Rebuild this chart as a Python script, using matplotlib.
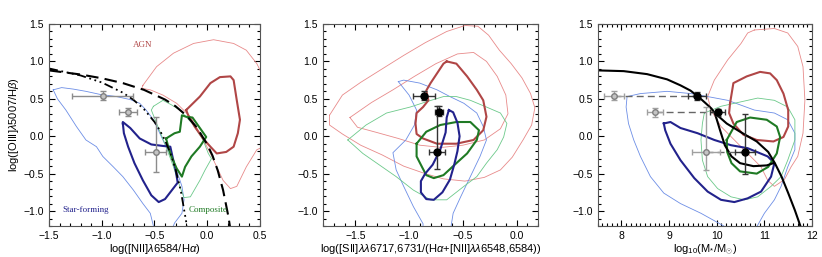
import matplotlib
matplotlib.use("Agg")
import matplotlib.pyplot as plt
from matplotlib.ticker import MultipleLocator

plt.rcParams["font.family"] = ["Liberation Sans", "DejaVu Sans"]
plt.rcParams["mathtext.fontset"] = "custom"
plt.rcParams["mathtext.rm"] = "Liberation Sans"
plt.rcParams["mathtext.it"] = "Liberation Sans:italic"

# ---------------- data ----------------
# demarcation lines, BPT panel
kew_x = [-1.5, -1.2, -1.0, -0.8, -0.6, -0.4, -0.3, -0.2, -0.1, 0.0, 0.05, 0.1, 0.15, 0.2, 0.22]
kew_y = [0.88, 0.825, 0.775, 0.71, 0.62, 0.49, 0.40, 0.28, 0.12, -0.11, -0.26, -0.46, -0.72, -1.07, -1.25]
kau_x = [-1.5, -1.2, -1.0, -0.8, -0.7, -0.6, -0.5, -0.45, -0.4, -0.35, -0.3, -0.25, -0.2, -0.19]
kau_y = [0.906, 0.812, 0.719, 0.582, 0.487, 0.362, 0.191, 0.08, -0.056, -0.225, -0.443, -0.733, -1.14, -1.24]

# MEx lines, mass panel
mex_up_x = [7.5, 8.05, 8.54, 8.96, 9.24, 9.45, 9.63, 9.77, 9.89, 9.96, 10.21, 10.49, 10.84, 11.08, 11.22, 11.36, 11.50, 11.64, 11.75, 11.78]
mex_up_y = [0.88, 0.87, 0.83, 0.76, 0.68, 0.61, 0.52, 0.44, 0.37, 0.31, 0.17, 0.06, -0.07, -0.21, -0.36, -0.54, -0.76, -0.99, -1.19, -1.25]
mex_lo_x = [9.96, 10.07, 10.17, 10.31, 10.49, 10.77, 11.05, 11.19]
mex_lo_y = [0.31, 0.08, -0.12, -0.27, -0.36, -0.40, -0.39, -0.36]

# measured points
p1_x, p1_xerr = [-0.99, -0.75, -0.49], [0.29, 0.085, 0.10]
pts_y = [0.54, 0.32, -0.21]
p1_yerr = [[0.06, 0.055, 0.27], [0.06, 0.055, 0.47]]
p2_x, p2_xerr = [-0.86, -0.72, -0.74], [0.10, 0.04, 0.075]
p2_yerr = [[0.06, 0.05, 0.23], [0.06, 0.09, 0.62]]
p3g_x, p3g_xerr = [7.85, 8.70, 9.77], [0.21, 0.17, 0.29]
p3g_yerr = [[0.06, 0.06, 0.24], [0.06, 0.06, 0.60]]
p3b_x, p3b_xerr = [9.58, 10.02, 10.59], [0.19, 0.16, 0.21]
p3b_yerr = [[0.05, 0.05, 0.30], [0.05, 0.05, 0.51]]

# contours, BPT panel
c1_sf_out = [(-1.46, 0.62), (-1.38, 0.65), (-1.27, 0.63), (-1.15, 0.60), (-1.02, 0.56), (-0.86, 0.53),
             (-0.73, 0.49), (-0.64, 0.44), (-0.58, 0.35), (-0.51, 0.22), (-0.45, 0.04), (-0.39, -0.14),
             (-0.32, -0.32), (-0.28, -0.50), (-0.24, -0.67), (-0.22, -0.85), (-0.24, -1.03), (-0.31, -1.16),
             (-0.35, -1.3), (-0.51, -1.3), (-0.51, -1.2), (-0.54, -1.03), (-0.61, -0.90), (-0.70, -0.72),
             (-0.80, -0.54), (-0.89, -0.41), (-0.99, -0.27), (-1.05, -0.14), (-1.15, -0.05), (-1.24, 0.13),
             (-1.34, 0.35), (-1.42, 0.50), (-1.46, 0.62)]
c1_sf_in = [(-0.80, 0.17), (-0.79, 0.04), (-0.75, -0.14), (-0.69, -0.36), (-0.61, -0.59), (-0.53, -0.79),
            (-0.46, -0.88), (-0.40, -0.84), (-0.28, -0.62), (-0.30, -0.45), (-0.33, -0.27), (-0.35, -0.14),
            (-0.42, -0.13), (-0.53, -0.11), (-0.64, -0.03), (-0.73, 0.11), (-0.80, 0.19), (-0.80, 0.17)]
c1_co_out = [(-0.51, 0.40), (-0.42, 0.48), (-0.34, 0.42), (-0.26, 0.35), (-0.13, 0.15), (-0.04, -0.05),
             (0.01, -0.23), (0.04, -0.30), (-0.02, -0.45), (-0.07, -0.59), (-0.16, -0.81), (-0.22, -0.82),
             (-0.26, -0.67), (-0.32, -0.41), (-0.39, -0.14), (-0.48, 0.17), (-0.53, 0.35), (-0.51, 0.40)]
c1_co_in = [(-0.39, -0.03), (-0.31, 0.04), (-0.26, 0.06), (-0.24, 0.28), (-0.20, 0.26), (-0.14, 0.25),
            (-0.07, 0.11), (-0.01, -0.01), (-0.07, -0.14), (-0.15, -0.27), (-0.21, -0.41), (-0.24, -0.54),
            (-0.29, -0.43), (-0.34, -0.27), (-0.37, -0.14), (-0.39, -0.03)]
c1_agn_out = [(-0.61, 0.68), (-0.48, 0.93), (-0.32, 1.11), (-0.13, 1.24), (0.06, 1.29), (0.25, 1.24),
              (0.37, 1.15), (0.47, 0.97), (0.60, 0.60), (0.60, -0.10), (0.47, -0.18), (0.37, -0.41),
              (0.28, -0.67), (0.22, -0.70), (0.15, -0.59), (0.09, -0.41), (0.03, -0.23), (-0.07, 0.04),
              (-0.16, 0.26), (-0.29, 0.44), (-0.42, 0.55), (-0.54, 0.62), (-0.62, 0.64), (-0.61, 0.68)]
c1_agn_in = [(-0.20, 0.35), (-0.07, 0.53), (0.03, 0.71), (0.12, 0.79), (0.22, 0.80), (0.25, 0.75),
             (0.28, 0.48), (0.31, 0.22), (0.29, 0.04), (0.25, -0.14), (0.18, -0.21), (0.09, -0.23),
             (0.03, -0.14), (-0.04, -0.03), (-0.12, 0.13), (-0.18, 0.28), (-0.20, 0.35)]

# contours, [SII] panel
c2_agn_out = [(-1.74, 0.28), (-1.62, 0.55), (-1.45, 0.72), (-1.25, 0.90), (-1.05, 1.08), (-0.85, 1.25),
              (-0.65, 1.40), (-0.48, 1.48), (-0.36, 1.47), (-0.26, 1.35), (-0.16, 1.15), (-0.05, 0.97),
              (0.05, 0.78), (0.13, 0.57), (0.17, 0.38), (0.14, 0.15), (0.06, -0.05), (-0.04, -0.28),
              (-0.15, -0.45), (-0.30, -0.55), (-0.48, -0.60), (-0.68, -0.57), (-0.85, -0.50), (-1.05, -0.40),
              (-1.25, -0.25), (-1.45, -0.12), (-1.62, 0.03), (-1.74, 0.15), (-1.74, 0.28)]
c2_agn_hole = [(-1.55, 0.25), (-1.35, 0.45), (-1.15, 0.62), (-0.95, 0.80), (-0.75, 0.97), (-0.55, 1.10),
               (-0.40, 1.12), (-0.28, 1.00), (-0.18, 0.80), (-0.10, 0.55), (-0.08, 0.30), (-0.15, 0.10),
               (-0.30, -0.05), (-0.50, -0.12), (-0.70, -0.15), (-0.90, -0.12), (-1.10, -0.03), (-1.30, 0.05),
               (-1.48, 0.12), (-1.55, 0.25)]
c2_agn_in = [(-0.65, 1.00), (-0.56, 0.97), (-0.46, 0.80), (-0.37, 0.62), (-0.31, 0.48), (-0.28, 0.26),
             (-0.31, 0.08), (-0.40, -0.05), (-0.56, -0.10), (-0.74, -0.10), (-0.87, -0.03), (-0.93, 0.03),
             (-0.94, 0.17), (-0.93, 0.31), (-0.87, 0.39), (-0.82, 0.48), (-0.84, 0.61), (-0.80, 0.71),
             (-0.74, 0.84), (-0.68, 0.97), (-0.65, 1.00)]
c2_sf_in = [(-0.63, 0.35), (-0.59, 0.32), (-0.55, 0.18), (-0.53, 0.0), (-0.55, -0.2), (-0.58, -0.38),
            (-0.62, -0.58), (-0.69, -0.75), (-0.77, -0.85), (-0.84, -0.84), (-0.89, -0.75), (-0.89, -0.60),
            (-0.85, -0.50), (-0.78, -0.38), (-0.71, -0.18), (-0.66, 0.05), (-0.65, 0.25), (-0.63, 0.35)]
c2_co_in = [(-0.93, -0.10), (-0.84, 0.06), (-0.71, 0.15), (-0.56, 0.19), (-0.43, 0.19), (-0.35, 0.08),
            (-0.37, -0.05), (-0.46, -0.23), (-0.56, -0.36), (-0.68, -0.52), (-0.77, -0.56), (-0.84, -0.52),
            (-0.88, -0.41), (-0.93, -0.27), (-0.93, -0.14), (-0.93, -0.10)]
c2_sf_out = [(-1.10, 0.73), (-1.05, 0.75), (-0.90, 0.71), (-0.74, 0.62), (-0.62, 0.53), (-0.49, 0.44),
             (-0.37, 0.31), (-0.31, 0.13), (-0.28, -0.05), (-0.34, -0.27), (-0.43, -0.54), (-0.52, -0.81),
             (-0.59, -1.03), (-0.62, -1.3), (-0.87, -1.3), (-0.87, -1.17), (-0.96, -0.94), (-1.05, -0.67),
             (-1.12, -0.45), (-1.15, -0.22), (-1.03, -0.05), (-0.95, 0.15), (-0.93, 0.35), (-1.00, 0.55),
             (-1.10, 0.73)]
c2_co_out = [(-1.57, -0.05), (-1.40, 0.15), (-1.21, 0.31), (-0.99, 0.39), (-0.84, 0.46), (-0.68, 0.53),
             (-0.56, 0.53), (-0.43, 0.48), (-0.28, 0.39), (-0.15, 0.31), (-0.09, 0.17), (-0.12, -0.01),
             (-0.18, -0.18), (-0.28, -0.36), (-0.37, -0.54), (-0.49, -0.67), (-0.65, -0.85), (-0.80, -0.85),
             (-0.96, -0.72), (-1.12, -0.54), (-1.30, -0.36), (-1.43, -0.23), (-1.57, -0.05)]

# contours, mass panel
c3_sf_out = [(8.12, 0.53), (8.40, 0.57), (8.96, 0.60), (9.46, 0.57), (9.81, 0.53), (10.23, 0.48),
             (10.79, 0.35), (11.21, 0.31), (11.49, 0.22), (11.64, 0.04), (11.64, -0.18), (11.49, -0.41),
             (11.35, -0.67), (11.21, -0.85), (11.00, -1.03), (10.85, -1.2), (10.79, -1.3), (10.2, -1.3),
             (10.15, -1.2), (9.67, -1.03), (9.24, -0.90), (8.89, -0.76), (8.61, -0.54), (8.40, -0.27),
             (8.26, -0.05), (8.15, 0.17), (8.10, 0.39), (8.12, 0.53)]
c3_sf_in = [(8.89, 0.17), (9.03, 0.19), (9.24, 0.11), (9.60, 0.04), (9.95, -0.05), (10.30, -0.12),
            (10.65, -0.16), (11.07, -0.27), (11.21, -0.36), (11.14, -0.54), (10.93, -0.74), (10.65, -0.83),
            (10.37, -0.88), (10.09, -0.85), (9.81, -0.74), (9.53, -0.56), (9.24, -0.32), (9.03, -0.10),
            (8.92, 0.08), (8.89, 0.17)]
c3_agn_in = [(10.28, 0.44), (10.35, 0.71), (10.63, 0.80), (10.91, 0.86), (11.12, 0.84), (11.26, 0.75),
             (11.40, 0.57), (11.50, 0.35), (11.50, 0.13), (11.40, -0.01), (11.19, -0.07), (10.84, -0.05),
             (10.56, 0.02), (10.35, 0.17), (10.26, 0.31), (10.28, 0.44)]
c3_co_in = [(10.21, -0.05), (10.42, 0.19), (10.70, 0.25), (11.05, 0.22), (11.26, 0.13), (11.33, -0.01),
            (11.26, -0.23), (11.08, -0.41), (10.84, -0.50), (10.49, -0.47), (10.31, -0.36), (10.22, -0.21),
            (10.21, -0.05)]
c3_co_out = [(9.74, 0.31), (10.09, 0.40), (10.51, 0.46), (10.86, 0.51), (11.21, 0.48), (11.49, 0.39),
             (11.64, 0.22), (11.64, -0.05), (11.49, -0.32), (11.35, -0.54), (11.14, -0.67), (10.86, -0.81),
             (10.58, -0.85), (10.30, -0.81), (10.02, -0.70), (9.81, -0.54), (9.70, -0.32), (9.67, -0.05),
             (9.70, 0.17), (9.74, 0.31)]
c3_agn_out = [(10.79, 1.42), (11.21, 1.44), (11.49, 1.38), (11.70, 1.20), (11.81, 0.93), (11.85, 0.48),
              (11.81, 0.04), (11.70, -0.27), (11.56, -0.41), (11.42, -0.58), (11.21, -0.67), (11.07, -0.59),
              (10.93, -0.41), (10.65, -0.23), (10.37, -0.05), (10.09, 0.13), (9.88, 0.35), (9.81, 0.53),
              (9.95, 0.75), (10.23, 1.02), (10.51, 1.24), (10.65, 1.38), (10.79, 1.42)]

# ---------------- style ----------------
LB, DB = "#6d8ee6", "#22228c"
LG, DG = "#6cc98a", "#1f7a24"
LR, DR = "#e88a8a", "#b04646"
GREY = "#8c8c8c"
THIN, THICK = 0.6, 1.5


def contour(ax, pts, color, lw):
    xs = [p[0] for p in pts]
    ys = [p[1] for p in pts]
    ax.plot(xs, ys, color=color, lw=lw)


def style(ax, xlim, xmaj, xmin_):
    ax.set_xlim(*xlim)
    ax.set_ylim(-1.2, 1.5)
    ax.xaxis.set_major_locator(MultipleLocator(xmaj))
    ax.xaxis.set_minor_locator(MultipleLocator(xmin_))
    ax.yaxis.set_major_locator(MultipleLocator(0.5))
    ax.yaxis.set_minor_locator(MultipleLocator(0.1))
    ax.tick_params(which="both", direction="in", top=True, right=True, labelsize=7.5, width=0.8)
    ax.tick_params(which="major", length=4)
    ax.tick_params(which="minor", length=2)
    for s in ax.spines.values():
        s.set_linewidth(0.8)
        s.set_color("#555555")


def errs(ax, x, xerr, yerr, color, mfc, mec, ms):
    ax.errorbar(x, pts_y, xerr=xerr, yerr=yerr, fmt="o", color=color, ms=ms,
                mfc=mfc, mec=mec, ecolor=color, elinewidth=1.0, capsize=2, capthick=1.0, zorder=5)


fig = plt.figure(figsize=(8.22, 2.57), dpi=100)
ax1 = fig.add_axes([0.0596, 0.1206, 0.2567, 0.786])
ax2 = fig.add_axes([0.3930, 0.1206, 0.2616, 0.786])
ax3 = fig.add_axes([0.7269, 0.1206, 0.2610, 0.786])

# panel 1: BPT
style(ax1, (-1.5, 0.5), 0.5, 0.1)
contour(ax1, c1_agn_out, LR, THIN)
contour(ax1, c1_sf_out, LB, THIN)
contour(ax1, c1_co_out, LG, THIN)
contour(ax1, c1_agn_in, DR, THICK)
contour(ax1, c1_sf_in, DB, THICK)
contour(ax1, c1_co_in, DG, THICK)
ax1.plot(kew_x, kew_y, color="black", lw=1.5, ls=(0, (6, 3)))
ax1.plot(kau_x, kau_y, color="black", lw=1.3, ls=(0, (5, 2, 1, 2, 1, 2, 1, 2)))
errs(ax1, p1_x, p1_xerr, p1_yerr, GREY, "#c4c4c4", "#808080", 4)
ax1.text(-0.61, 1.22, "AGN", color=DR, fontsize=6.5, family="Liberation Serif", ha="center", va="center")
ax1.text(-1.15, -0.98, "Star-forming", color=DB, fontsize=6.5, family="Liberation Serif", ha="center", va="center")
ax1.text(0.01, -0.98, "Composite", color=DG, fontsize=6.5, family="Liberation Serif", ha="center", va="center")
ax1.set_xlabel(r"log([NII]$\lambda$6584/H$\alpha$)", fontsize=8, labelpad=1)
ax1.set_ylabel(r"log([OIII]$\lambda$5007/H$\beta$)", fontsize=8, labelpad=2)

# panel 2: [SII]
style(ax2, (-1.8, 0.2), 0.5, 0.1)
contour(ax2, c2_agn_out, LR, THIN)
contour(ax2, c2_agn_hole, LR, THIN)
contour(ax2, c2_sf_out, LB, THIN)
contour(ax2, c2_co_out, LG, THIN)
contour(ax2, c2_agn_in, DR, THICK)
contour(ax2, c2_co_in, DG, THICK)
contour(ax2, c2_sf_in, DB, THICK)
errs(ax2, p2_x, p2_xerr, p2_yerr, "#333333", "black", "black", 5)
ax2.set_xlabel(r"log([SII]$\lambda\lambda$6717,6731/(H$\alpha$+[NII]$\lambda\lambda$6548,6584))",
               fontsize=8, labelpad=1)

# panel 3: mass excitation
style(ax3, (7.5, 12.0), 1, 0.1)
contour(ax3, c3_agn_out, LR, THIN)
contour(ax3, c3_sf_out, LB, THIN)
contour(ax3, c3_co_out, LG, THIN)
contour(ax3, c3_agn_in, DR, THICK)
contour(ax3, c3_sf_in, DB, THICK)
contour(ax3, c3_co_in, DG, THICK)
ax3.plot(mex_up_x, mex_up_y, color="black", lw=1.5)
ax3.plot(mex_lo_x, mex_lo_y, color="black", lw=1.5)
for gx, bx, y in zip(p3g_x, p3b_x, pts_y):
    ax3.plot([gx, bx], [y, y], color="#666666", lw=1.0, ls=(0, (5, 3)), zorder=4)
errs(ax3, p3g_x, p3g_xerr, p3g_yerr, "#a0a0a0", "#c4c4c4", "#808080", 4)
errs(ax3, p3b_x, p3b_xerr, p3b_yerr, "#333333", "black", "black", 5)
ax3.set_xlabel(r"log$_{10}$(M$_{*}$/M$_{\odot}$)", fontsize=8, labelpad=1)

fig.savefig("out.png", dpi=100)
